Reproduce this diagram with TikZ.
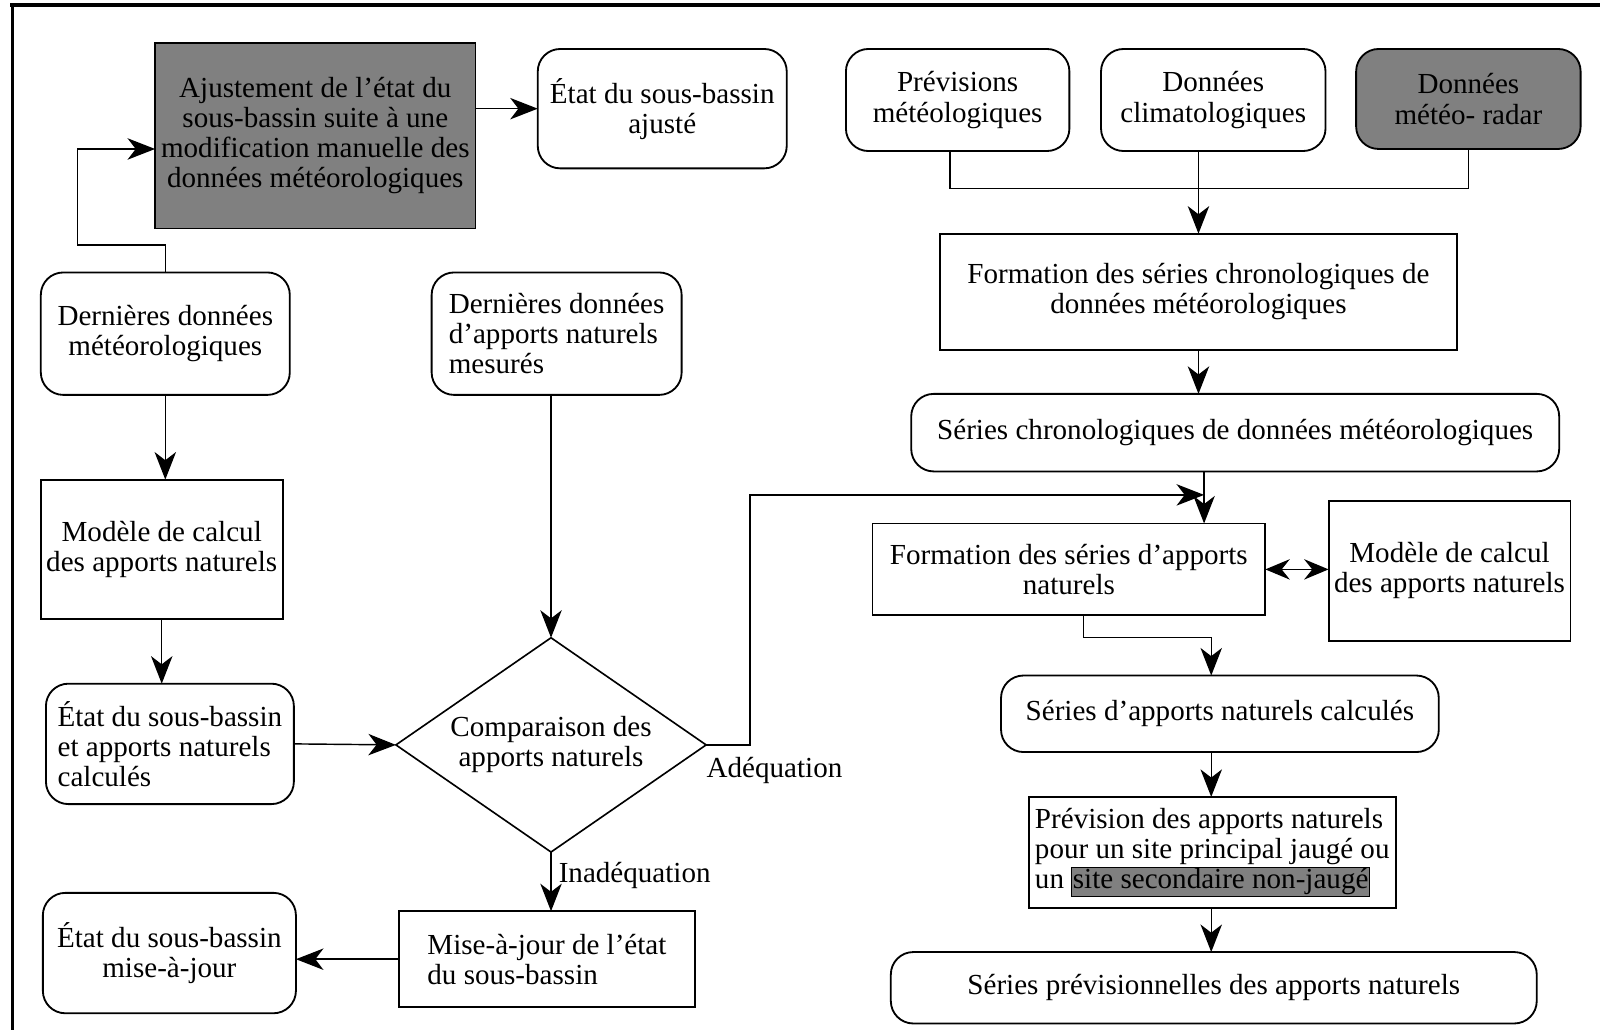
\documentclass[tikz,border=0pt]{standalone}
\usepackage{fontspec}
\setmainfont{Liberation Serif}
\usetikzlibrary{shapes.geometric,arrows.meta,calc}
\begin{document}
\begin{tikzpicture}[x=1pt,y=-1pt,
  every node/.style={font=\fontsize{28.5}{29.5}\selectfont, inner sep=2pt, outer sep=0pt},
  sbox/.style={draw, line width=1.8pt, align=center},
  rbox/.style={sbox, rounded corners=22pt},
  gbox/.style={sbox, fill=black!50},
  grbox/.style={rbox, fill=black!50},
  conn/.style={line width=1.4pt},
  arr/.style={conn, -{Stealth[length=27pt,width=21pt,inset=8pt]}},
  darr/.style={conn, {Stealth[length=24pt,width=20pt,inset=8pt]}-{Stealth[length=24pt,width=20pt,inset=8pt]}},
  lbl/.style={inner sep=0pt}]
\useasboundingbox (0,0) rectangle (1568,1009);
\setlength\fboxsep{0.5pt}\setlength\fboxrule{1pt}
% frame (top and left only)
\draw[line width=4pt] (10,5) -- (1568,5);
\draw[line width=3pt] (12,3) -- (12,1009);

% left part
\node[gbox, minimum width=314, minimum height=182] (adj) at (309,133)
  {Ajustement de l’état du\\sous-bassin suite à une\\modification manuelle des\\données météorologiques};
\node[rbox, minimum width=244, minimum height=117] (ajust) at (649,106.5)
  {État du sous-bassin\\ajusté};
\node[rbox, minimum width=244, minimum height=120] (dern1) at (162,327)
  {Dernières données\\météorologiques};
\node[sbox, minimum width=237, minimum height=137] (model1) at (158.5,538.5)
  {Modèle de calcul\\des apports naturels};
\node[rbox, align=left, minimum width=243, minimum height=118] (etat1) at (166.5,729)
  {État du sous-bassin\\et apports naturels\\calculés};
\node[rbox, align=left, minimum width=245, minimum height=120] (dern2) at (545.5,327)
  {Dernières données\\d’apports naturels\\mesurés};
\node[draw, diamond, aspect=1.45, line width=1.6pt, minimum width=304, minimum height=210, inner sep=0pt, align=center] (dia) at (540,730)
  {Comparaison des\\apports naturels};
\node[sbox, align=left, minimum width=290, minimum height=94] (mise) at (536,940)
  {Mise-à-jour de l’état\\du sous-bassin};
\node[rbox, minimum width=248, minimum height=118] (etat2) at (166,934)
  {État du sous-bassin\\mise-à-jour};
\node[lbl] (ladeq) at (759,755) {Adéquation};
\node[lbl] (linad) at (622,858) {Inadéquation};

% right part
\node[rbox, minimum width=219, minimum height=100] (prev) at (938.5,98)
  {Prévisions\\météologiques};
\node[rbox, minimum width=220, minimum height=100] (clim) at (1189,98)
  {Données\\climatologiques};
\node[grbox, minimum width=220, minimum height=98] (radar) at (1439,97)
  {Données\\météo- radar};
\node[sbox, minimum width=507, minimum height=114] (form1) at (1174.5,286)
  {Formation des séries chronologiques de\\données météorologiques};
\node[rbox, minimum width=635, minimum height=76] (series) at (1210.5,424)
  {Séries chronologiques de données météorologiques};
\node[sbox, minimum width=385, minimum height=90] (form2) at (1047.5,558)
  {Formation des séries d’apports\\naturels};
\node[sbox, minimum width=237, minimum height=137] (model2) at (1420.5,559.5)
  {Modèle de calcul\\des apports naturels};
\node[rbox, minimum width=429, minimum height=75] (series2) at (1195.5,699.5)
  {Séries d’apports naturels calculés};
\node[sbox, align=left, minimum width=360, minimum height=109] (pbox) at (1188,835.5)
  {Prévision des apports naturels\\pour un site principal jaugé ou\\un \fcolorbox{black}{black!50}{site secondaire non-jaugé}};
\node[rbox, minimum width=633, minimum height=70] (final) at (1189.5,968)
  {Séries prévisionnelles des apports naturels};

% helper coordinates
\coordinate (fb1) at (76,240);
\coordinate (fbin) at ($(adj.west)+(0,13)$);
\coordinate (jn) at (931,185);
\coordinate (j2) at (1180,485);
\coordinate (k1) at (735,485);
\coordinate (k3) at (1062,625);
\coordinate (j3) at (1187,625);

% connectors left
\draw[arr] (adj.east |- ajust.west) -- (ajust.west);
\draw[arr] (dern1.north) -- (dern1.north |- fb1) -- (fb1) |- (fbin);
\draw[arr] (dern1.south) -- (dern1.south |- model1.north);
\draw[arr] (model1.south) -- (model1.south |- etat1.north);
\draw[arr] (etat1.east) -- (dia.west);
\draw[arr] (dia.north |- dern2.south) -- (dia.north);
\draw[arr] (dia.south) -- (dia.south |- mise.north);
\draw[arr] (mise.west) -- (mise.west -| etat2.east);
\draw[arr] (dia.east) -| (k1) -- (j2);

% connectors right
\draw[conn] (jn |- prev.south) -- (jn) -- (jn -| radar.south) -- (radar.south);
\draw[arr] (form1.north |- clim.south) -- (form1.north);
\draw[arr] (form1.south) -- (form1.south |- series.north);
\draw[arr] (j2 |- series.south) -- (j2 |- form2.north);
\draw[darr] (form2.east) -- (form2.east -| model2.west);
\draw[arr] (k3 |- form2.south) -- (k3) -| (j3 |- series2.north);
\draw[arr] (j3 |- series2.south) -- (j3 |- pbox.north);
\draw[arr] (j3 |- pbox.south) -- (j3 |- final.north);
\end{tikzpicture}
\end{document}
